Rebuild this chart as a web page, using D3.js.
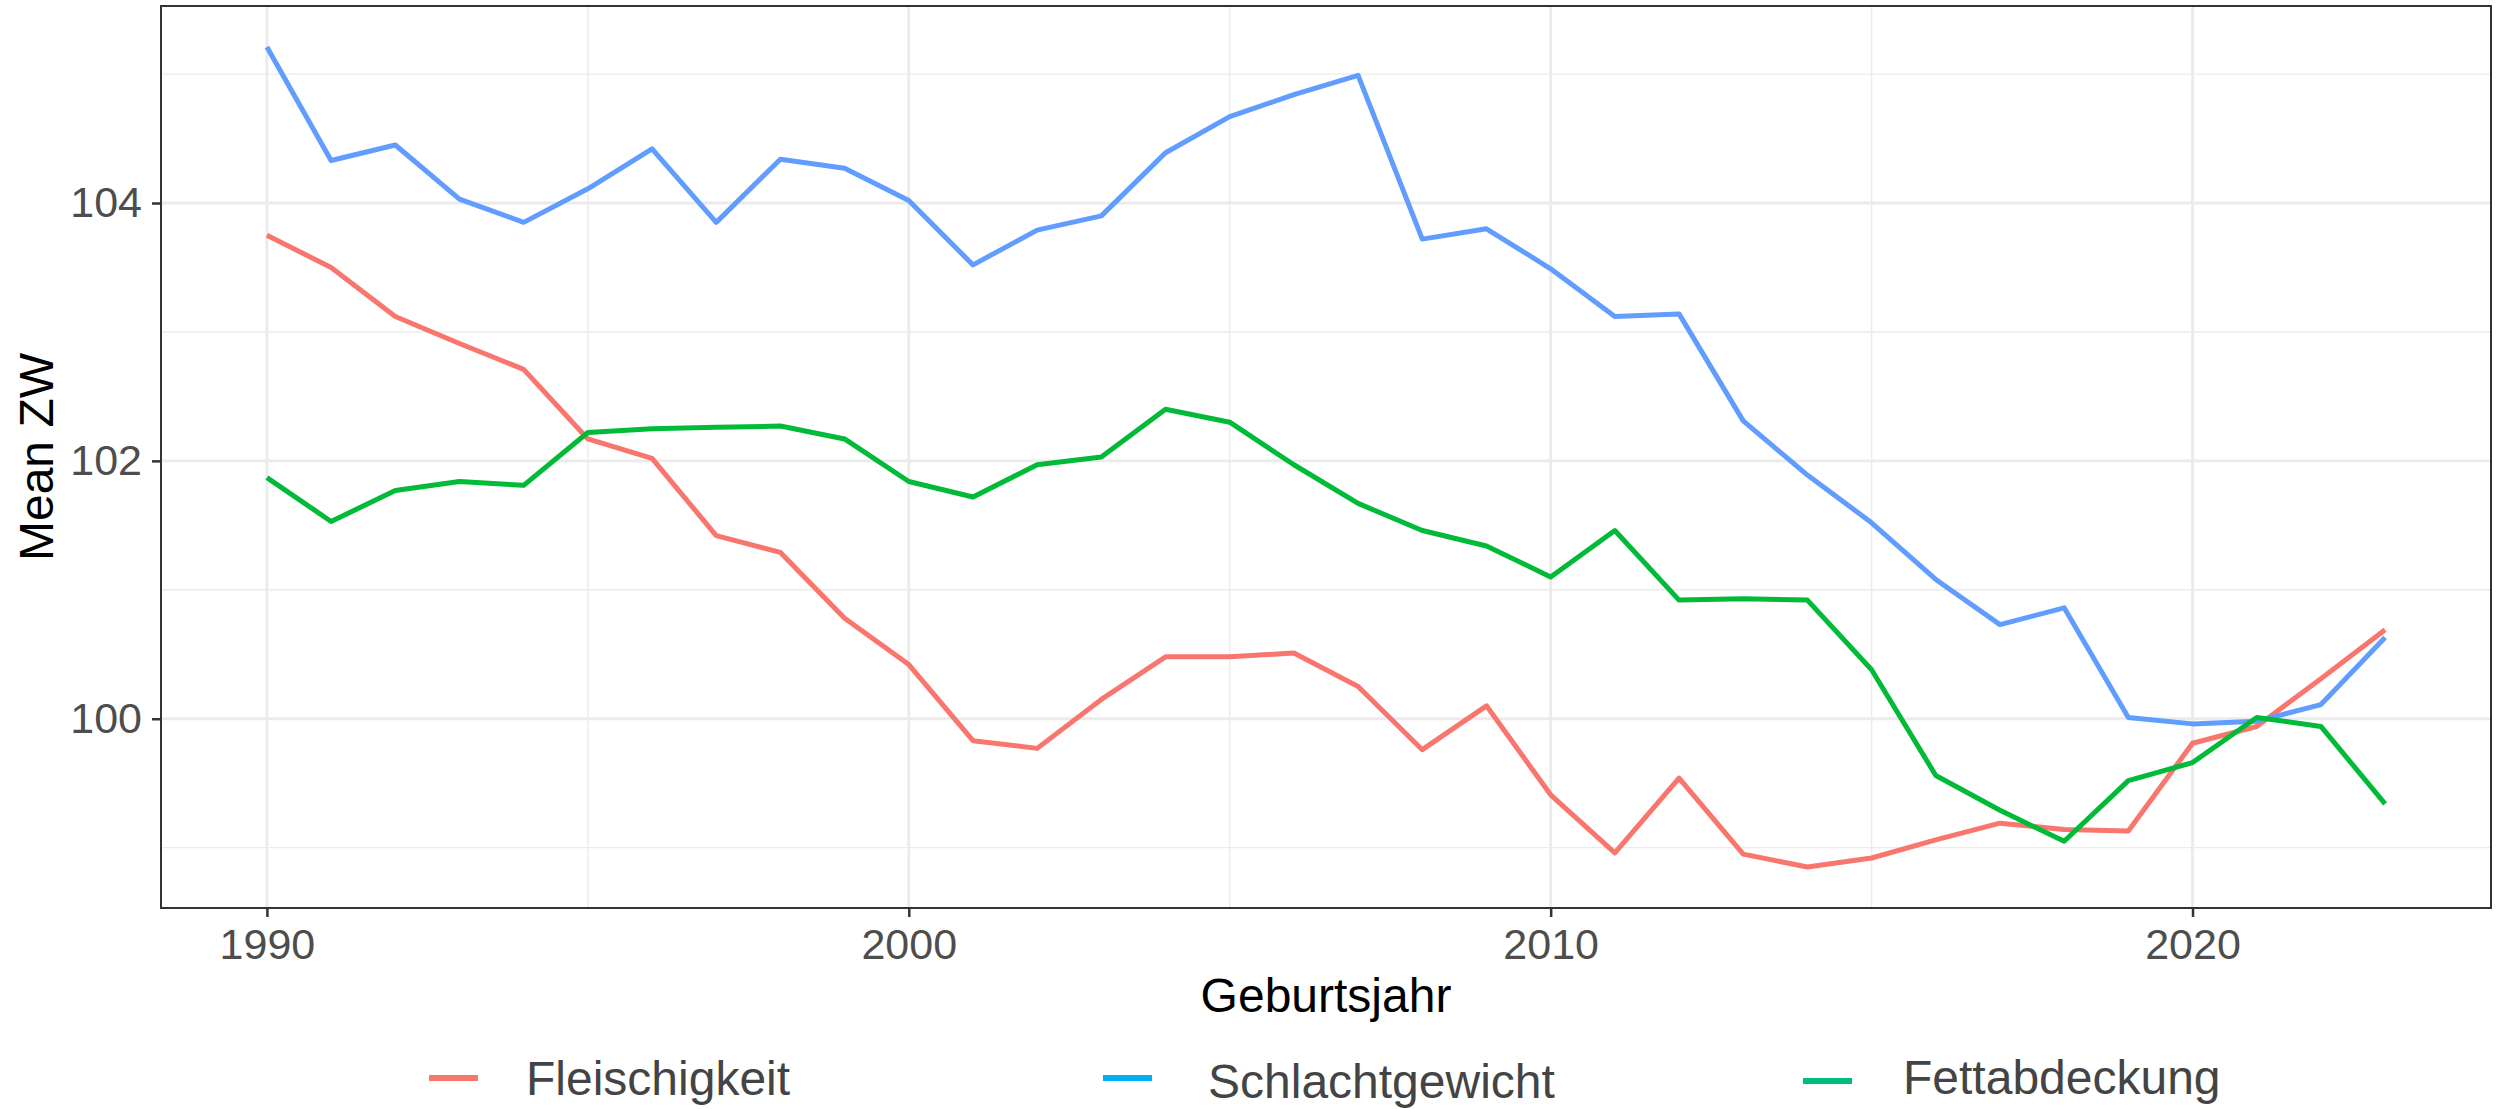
<!DOCTYPE html>
<html>
<head>
<meta charset="utf-8">
<script src="https://cdn.jsdelivr.net/npm/d3@7"></script>
<style>
  body { margin: 0; background: #ffffff; }
  svg { display: block; font-family: "Liberation Sans", Arial, sans-serif; }
</style>
</head>
<body>
<svg></svg>
<script>
// years on the x axis
const years = [1990, 1991, 1992, 1993, 1994, 1995, 1996, 1997, 1998, 1999,
               2000, 2001, 2002, 2003, 2004, 2005, 2006, 2007, 2008, 2009,
               2010, 2011, 2012, 2013, 2014, 2015, 2016, 2017, 2018, 2019,
               2020, 2021, 2022, 2023];

// mean breeding values per trait
const fleischigkeit = [103.75, 103.50, 103.12, 102.91, 102.71, 102.17, 102.02, 101.42, 101.29, 100.78,
                       100.42, 99.83, 99.77, 100.15, 100.48, 100.48, 100.51, 100.25, 99.76, 100.10,
                       99.41, 98.96, 99.54, 98.95, 98.85, 98.92, 99.06, 99.19, 99.14, 99.13,
                       99.81, 99.94, 100.31, 100.69];
const schlachtgewicht = [105.21, 104.33, 104.45, 104.03, 103.85, 104.11, 104.42, 103.85, 104.34, 104.27,
                         104.02, 103.52, 103.79, 103.90, 104.39, 104.67, 104.84, 104.99, 103.72, 103.80,
                         103.49, 103.12, 103.14, 102.31, 101.89, 101.52, 101.08, 100.73, 100.86, 100.01,
                         99.96, 99.98, 100.11, 100.63];
const fettabdeckung = [101.87, 101.53, 101.77, 101.84, 101.81, 102.22, 102.25, 102.26, 102.27, 102.17,
                       101.84, 101.72, 101.97, 102.03, 102.40, 102.30, 101.97, 101.67, 101.46, 101.34,
                       101.10, 101.46, 100.92, 100.93, 100.92, 100.38, 99.56, 99.29, 99.05, 99.52,
                       99.66, 100.01, 99.94, 99.34];

const seriesNames = ["Fleischigkeit", "Schlachtgewicht", "Fettabdeckung"];
const lineColors = ["#F8766D", "#619CFF", "#00BA38"];
const keyColors = ["#F8766D", "#00B0F6", "#00BF7D"];

const xTicks = [1990, 2000, 2010, 2020];
const xMinor = [1995, 2005, 2015];
const yTicks = [100, 102, 104];
const yMinor = [99, 101, 103, 105];

window.onload = function() {
    const W = 2501, H = 1109;
    const panel = { left: 161, right: 2491, top: 6, bottom: 908 };

    const svg = d3.select("svg")
        .attr("width", W)
        .attr("height", H);

    svg.append("rect").attr("width", W).attr("height", H).attr("fill", "#ffffff");

    const series = seriesNames.map(function(name, i) {
        const vals = [fleischigkeit, schlachtgewicht, fettabdeckung][i];
        return { name: name, color: lineColors[i], key: keyColors[i],
                 values: years.map(function(y, j) { return { year: y, value: vals[j] }; }) };
    });

    // ggplot-like 5% expansion
    const xExt = d3.extent(years);
    const xPad = (xExt[1] - xExt[0]) * 0.05;
    const allVals = fleischigkeit.concat(schlachtgewicht, fettabdeckung);
    const yExt = d3.extent(allVals);
    const yPad = (yExt[1] - yExt[0]) * 0.05;

    const x = d3.scaleLinear()
        .domain([xExt[0] - xPad, xExt[1] + xPad])
        .range([panel.left, panel.right]);
    const y = d3.scaleLinear()
        .domain([yExt[0] - yPad, yExt[1] + yPad])
        .range([panel.bottom, panel.top]);

    const grid = svg.append("g");
    // minor grid
    grid.selectAll("line.ymin").data(yMinor).join("line")
        .attr("x1", panel.left).attr("x2", panel.right)
        .attr("y1", d => y(d)).attr("y2", d => y(d))
        .attr("stroke", "#EBEBEB").attr("stroke-width", 1.4);
    grid.selectAll("line.xmin").data(xMinor).join("line")
        .attr("y1", panel.top).attr("y2", panel.bottom)
        .attr("x1", d => x(d)).attr("x2", d => x(d))
        .attr("stroke", "#EBEBEB").attr("stroke-width", 1.4);
    // major grid
    grid.selectAll("line.ymaj").data(yTicks).join("line")
        .attr("x1", panel.left).attr("x2", panel.right)
        .attr("y1", d => y(d)).attr("y2", d => y(d))
        .attr("stroke", "#EBEBEB").attr("stroke-width", 2.8);
    grid.selectAll("line.xmaj").data(xTicks).join("line")
        .attr("y1", panel.top).attr("y2", panel.bottom)
        .attr("x1", d => x(d)).attr("x2", d => x(d))
        .attr("stroke", "#EBEBEB").attr("stroke-width", 2.8);

    // lines
    const line = d3.line()
        .x(d => x(d.year))
        .y(d => y(d.value));

    svg.selectAll("path.series")
        .data(series)
        .join("path")
        .attr("class", "series")
        .attr("d", d => line(d.values))
        .attr("fill", "none")
        .attr("stroke", d => d.color)
        .attr("stroke-width", 5)
        .attr("stroke-linejoin", "round");

    // panel border
    svg.append("rect")
        .attr("x", panel.left).attr("y", panel.top)
        .attr("width", panel.right - panel.left)
        .attr("height", panel.bottom - panel.top)
        .attr("fill", "none")
        .attr("stroke", "#333333")
        .attr("stroke-width", 2);

    // axes
    const xAxis = svg.append("g")
        .attr("transform", "translate(0," + panel.bottom + ")")
        .call(d3.axisBottom(x).tickValues(xTicks).tickFormat(d3.format("d")).tickSize(9).tickPadding(11));
    const yAxis = svg.append("g")
        .attr("transform", "translate(" + panel.left + ",0)")
        .call(d3.axisLeft(y).tickValues(yTicks).tickFormat(d3.format("d")).tickSize(9).tickPadding(10));

    [xAxis, yAxis].forEach(function(ax) {
        ax.select(".domain").remove();
        ax.selectAll(".tick line").attr("stroke", "#333333").attr("stroke-width", 2.5);
        ax.selectAll(".tick text")
            .attr("fill", "#4D4D4D")
            .attr("font-size", 43)
            .attr("font-family", "'Liberation Sans', Arial, sans-serif");
    });

    // axis titles
    svg.append("text")
        .attr("x", (panel.left + panel.right) / 2)
        .attr("y", 1012)
        .attr("text-anchor", "middle")
        .attr("font-size", 48)
        .attr("fill", "#000000")
        .text("Geburtsjahr");

    svg.append("text")
        .attr("transform", "translate(53," + ((panel.top + panel.bottom) / 2) + ") rotate(-90)")
        .attr("text-anchor", "middle")
        .attr("font-size", 48)
        .attr("fill", "#000000")
        .text("Mean ZW");

    // legend
    const legendLayout = [
        { keyX: 429, keyY: 1078, textX: 526, textY: 1095 },
        { keyX: 1103, keyY: 1078, textX: 1208, textY: 1098 },
        { keyX: 1803, keyY: 1081, textX: 1903, textY: 1094 }
    ];

    const legend = svg.append("g");
    legend.selectAll("line")
        .data(series)
        .join("line")
        .attr("x1", (d, i) => legendLayout[i].keyX)
        .attr("x2", (d, i) => legendLayout[i].keyX + 49)
        .attr("y1", (d, i) => legendLayout[i].keyY)
        .attr("y2", (d, i) => legendLayout[i].keyY)
        .attr("stroke", d => d.key)
        .attr("stroke-width", 6);

    legend.selectAll("text")
        .data(series)
        .join("text")
        .attr("x", (d, i) => legendLayout[i].textX)
        .attr("y", (d, i) => legendLayout[i].textY)
        .attr("font-size", 48)
        .attr("fill", "#444444")
        .text(d => d.name);
};
</script>
</body>
</html>
